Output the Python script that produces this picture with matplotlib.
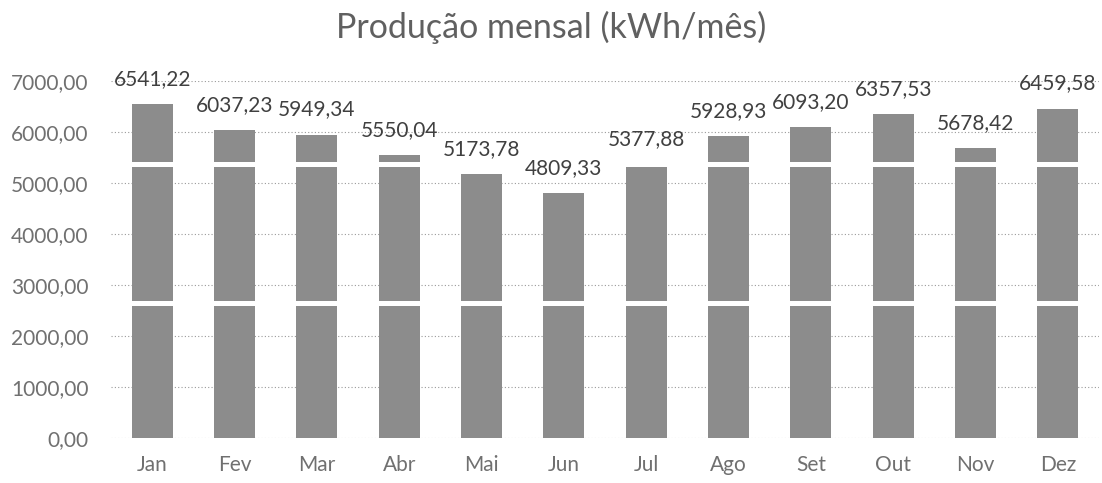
import matplotlib
matplotlib.use("Agg")
from matplotlib import pyplot as plt
import numpy as np

plt.rcParams['font.family'] = ['Lato', 'DejaVu Sans']

# monthly production (kWh/month)
months = ["Jan", "Fev", "Mar", "Abr", "Mai", "Jun", "Jul", "Ago", "Set", "Out", "Nov", "Dez"]
values = [6541.22, 6037.23, 5949.34, 5550.04, 5173.78, 4809.33,
          5377.88, 5928.93, 6093.20, 6357.53, 5678.42, 6459.58]
yticks = [0, 1000, 2000, 3000, 4000, 5000, 6000, 7000]

def br(v):
    # brazilian number format: comma decimal
    return f"{v:.2f}".replace(".", ",")

fig = plt.figure(figsize=(11.02, 4.83), dpi=100)
ax = fig.add_axes([111/1102, 45/483, 988/1102, 357/483])

x = np.arange(len(months))
ax.bar(x, values, width=0.5, color="#8c8c8c", zorder=2)

# white scan streaks crossing the bars
ax.axhspan(5310, 5420, color="white", zorder=3, lw=0)
ax.axhspan(2590, 2690, color="white", zorder=3, lw=0)

for xi, v in zip(x, values):
    ax.annotate(br(v), (xi, v), xytext=(0, 18), textcoords="offset points",
                ha="center", va="center", fontsize=15, color="#404040", zorder=4)

ax.set_xlim(-0.5, len(months) - 0.5)
ax.set_ylim(0, 7000)
ax.set_yticks(yticks)
ax.set_yticklabels([br(t) for t in yticks])
ax.set_xticks(x)
ax.set_xticklabels(months)
ax.tick_params(axis="both", length=0, labelsize=15, labelcolor="#707070")
ax.tick_params(axis="y", pad=16)
ax.tick_params(axis="x", pad=12)

ax.grid(axis="y", linestyle=(0, (1, 2)), color="#9a9a9a", linewidth=0.8, zorder=1)
for s in ax.spines.values():
    s.set_visible(False)

fig.text(0.5, 1 - 27/483, "Produção mensal (kWh/mês)", ha="center", va="center",
         fontsize=24.5, color="#606060")

fig.savefig("out.png", dpi=100)
